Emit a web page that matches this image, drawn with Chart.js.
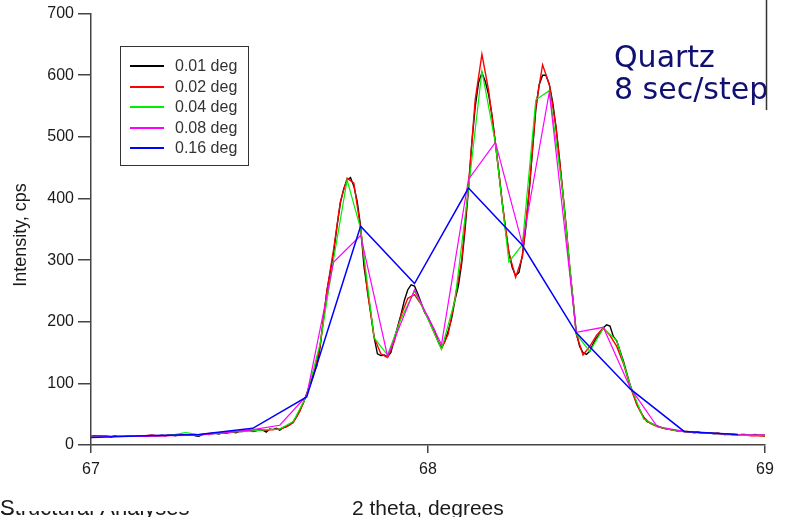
<!DOCTYPE html>
<html>
<head>
<meta charset="utf-8">
<title>Quartz scan, step size comparison</title>
<script src="https://cdn.jsdelivr.net/npm/chart.js@4.4.1/dist/chart.umd.min.js"></script>
<style>
    html, body { margin: 0; padding: 0; background: #ffffff; }
    #wrap { position: relative; width: 789px; height: 517px; }
</style>
</head>
<body>
<div id="wrap"><canvas id="quartzChart" width="789" height="517"></canvas></div>
<script>
// Scan range and step sizes
var scanStart  = 67;
var stepSizes  = [0.01, 0.02, 0.04, 0.08, 0.16];
var stepLabels = ["0.01 deg", "0.02 deg", "0.04 deg", "0.08 deg", "0.16 deg"];

// Counts per step, 67.00 -> 69.00
var counts001 = [
    14, 15, 14, 15, 15, 14, 13, 15, 14, 14,
    14, 15, 14, 15, 15, 15, 14, 15, 16, 15,
    15, 16, 15, 16, 16, 15, 16, 17, 16, 16,
    17, 15, 14, 17, 18, 17, 19, 19, 18, 20,
    19, 20, 21, 20, 22, 22, 23, 24, 22, 23,
    25, 24, 21, 26, 25, 27, 24, 28, 30, 33,
    38, 46, 57, 68, 83, 100, 115, 128, 160, 205,
    250, 280, 312, 355, 393, 416, 430, 434, 420, 395,
    355, 290, 252, 215, 175, 148, 145, 146, 143, 150,
    172, 192, 212, 235, 252, 260, 258, 245, 230, 215,
    207, 196, 185, 168, 158, 168, 185, 205, 235, 258,
    295, 350, 415, 490, 548, 588, 604, 590, 568, 535,
    490, 444, 395, 350, 312, 288, 275, 280, 308, 352,
    410, 478, 545, 585, 600, 600, 585, 556, 515, 465,
    410, 355, 290, 238, 182, 160, 150, 147, 152, 164,
    174, 181, 190, 195, 193, 176, 169, 152, 136, 116,
    97, 82, 66, 55, 45, 38, 36, 33, 31, 29,
    27, 26, 25, 24, 23, 23, 22, 22, 21, 20,
    21, 20, 19, 20, 19, 18, 19, 18, 17, 18,
    17, 17, 16, 17, 17, 16, 16, 17, 16, 16,
    16
];
var counts002 = [
    14, 15, 15, 14, 14, 14, 15, 15, 15, 16,
    15, 15, 16, 16, 16, 17, 16, 18, 19, 19,
    20, 21, 22, 23, 23, 25, 24, 25, 26, 30,
    36, 55, 82, 112, 162, 250, 318, 395, 433, 425,
    352, 250, 175, 148, 142, 168, 210, 238, 244, 228,
    205, 180, 156, 180, 238, 300, 420, 560, 634, 575,
    490, 395, 312, 272, 305, 412, 550, 617, 585, 515,
    410, 292, 180, 146, 160, 178, 190, 178, 160, 132,
    95, 65, 45, 35, 30, 27, 25, 23, 22, 21,
    20, 19, 19, 19, 17, 17, 16, 16, 15, 15,
    14
];
var counts004 = [
    13, 14, 14, 15, 15, 15, 16, 20, 17, 18,
    20, 22, 23, 25, 26, 38, 80, 165, 302, 430,
    351, 174, 146, 205, 250, 205, 155, 235, 415, 607,
    490, 297, 325, 560, 575, 410, 180, 152, 189, 170,
    97, 42, 30, 25, 22, 20, 19, 18, 16, 16,
    15
];
var counts008 = [
    13, 14, 14, 15, 16, 20, 25, 32, 80, 297,
    340, 144, 252, 163, 431, 491, 326, 573, 183, 191,
    93, 30, 22, 19, 17, 16
];
var counts016 = [
    12, 15, 17, 27, 78, 355, 262, 417, 324, 182,
    91, 22, 17
];

// Axis ticks and captions
var xTicks     = [67, 68, 69];
var yTicks     = [0, 100, 200, 300, 400, 500, 600, 700];
var xTitle     = "2 theta, degrees";
var yTitle     = "Intensity, cps";
var noteLines  = ["Quartz", "8 sec/step"];
var footerText = "Structural Analyses";

var lineColors = ["#000000", "#ff0000", "#00ee00", "#ff00ff", "#0000ff"];
var lineWidths = [1.4, 1.4, 1.2, 1.2, 1.5];
var fontFamily = "'Liberation Sans', Arial, sans-serif";

function toPoints(counts, step)
{
    return counts.map(function (c, i)
    {
        return {x: Math.round((scanStart + i * step) * 100) / 100, y: c};
    });
}

var allCounts = [counts001, counts002, counts004, counts008, counts016];

var datasets = allCounts.map(function (counts, i)
{
    return {
        label:       stepLabels[i],
        data:        toPoints(counts, stepSizes[i]),
        borderColor: lineColors[i],
        borderWidth: lineWidths[i],
        pointRadius: 0,
        tension:     0,
        fill:        false,
        // finer scans underneath, coarse ones on top
        order:       allCounts.length - i
    };
});

// Legend box, annotation text and axis titles
var overlayPlugin = {
    id: "quartzOverlay",
    afterDraw: function (chart)
    {
        var ctx = chart.ctx;
        ctx.save();

        // Y title
        ctx.fillStyle    = "#1a1a1a";
        ctx.font         = "18px " + fontFamily;
        ctx.textAlign    = "center";
        ctx.textBaseline = "middle";
        ctx.save();
        ctx.translate(21, 235);
        ctx.rotate(-Math.PI / 2);
        ctx.fillText(yTitle, 0, 0);
        ctx.restore();

        // X title
        ctx.font         = "21px " + fontFamily;
        ctx.textAlign    = "left";
        ctx.textBaseline = "alphabetic";
        ctx.fillText(xTitle, 352, 515);

        // Footer caption, only its lower edge shows past the "S"
        ctx.font = "22px " + fontFamily;
        ctx.fillText(footerText.charAt(0), 0, 515);
        ctx.save();
        ctx.beginPath();
        ctx.rect(0, 511, 300, 10);
        ctx.clip();
        ctx.fillText(footerText, 0, 515);
        ctx.restore();

        // Legend
        var box = {left: 120.5, top: 46.5, width: 128, height: 119};
        ctx.fillStyle = "#ffffff";
        ctx.fillRect(box.left, box.top, box.width, box.height);
        ctx.strokeStyle = "#333333";
        ctx.lineWidth   = 1;
        ctx.strokeRect(box.left, box.top, box.width, box.height);

        ctx.font         = "16px " + fontFamily;
        ctx.textBaseline = "middle";
        chart.data.datasets.forEach(function (ds, i)
        {
            var y = Math.round(66 + i * 20.5);
            ctx.strokeStyle = ds.borderColor;
            ctx.lineWidth   = 2;
            ctx.beginPath();
            ctx.moveTo(130, y);
            ctx.lineTo(164, y);
            ctx.stroke();
            ctx.fillStyle = "#333333";
            ctx.fillText(ds.label, 175, y + 1);
        });

        // Sample note
        ctx.fillStyle    = "#101070";
        ctx.font         = "30px 'Comic Sans MS', 'DejaVu Sans', sans-serif";
        ctx.textBaseline = "alphabetic";
        ctx.fillText(noteLines[0], 614, 67);
        ctx.fillText(noteLines[1], 614, 99);

        // Short frame edge at the right
        ctx.strokeStyle = "#333333";
        ctx.lineWidth   = 1.5;
        ctx.beginPath();
        ctx.moveTo(766.5, 0);
        ctx.lineTo(766.5, 110);
        ctx.stroke();

        ctx.restore();
    }
};

new Chart(document.getElementById("quartzChart"), {
    type:    "line",
    data:    {
        datasets: datasets
    },
    options: {
        responsive: false,
        animation:  false,
        events:     [],
        layout:     {
            padding: {top: 9, right: 24, bottom: 0, left: 0}
        },
        plugins:    {
            legend:  {display: false},
            tooltip: {enabled: false}
        },
        scales:     {
            x: {
                type:     "linear",
                min:      xTicks[0],
                max:      xTicks[xTicks.length - 1],
                afterFit: function (scale)
                {
                    scale.height = 72;
                },
                afterBuildTicks: function (scale)
                {
                    scale.ticks = xTicks.map(function (v) { return {value: v}; });
                },
                border:   {display: true, color: "#444444", width: 1.5},
                grid:     {drawOnChartArea: false, drawTicks: true, tickLength: 8, color: "#444444", lineWidth: 1.5},
                ticks:    {
                    color:    "#1a1a1a",
                    padding:  7,
                    font:     {family: fontFamily, size: 16},
                    callback: function (v) { return String(v); }
                }
            },
            y: {
                min:      yTicks[0],
                max:      yTicks[yTicks.length - 1],
                afterFit: function (scale)
                {
                    scale.width = 91;
                },
                afterBuildTicks: function (scale)
                {
                    scale.ticks = yTicks.map(function (v) { return {value: v}; });
                },
                border:   {display: true, color: "#444444", width: 1.5},
                grid:     {drawOnChartArea: false, drawTicks: true, tickLength: 13, color: "#444444", lineWidth: 1.5},
                ticks:    {
                    color:    "#1a1a1a",
                    padding:  4,
                    font:     {family: fontFamily, size: 16},
                    callback: function (v) { return String(v); }
                }
            }
        }
    },
    plugins: [overlayPlugin]
});
</script>
</body>
</html>
